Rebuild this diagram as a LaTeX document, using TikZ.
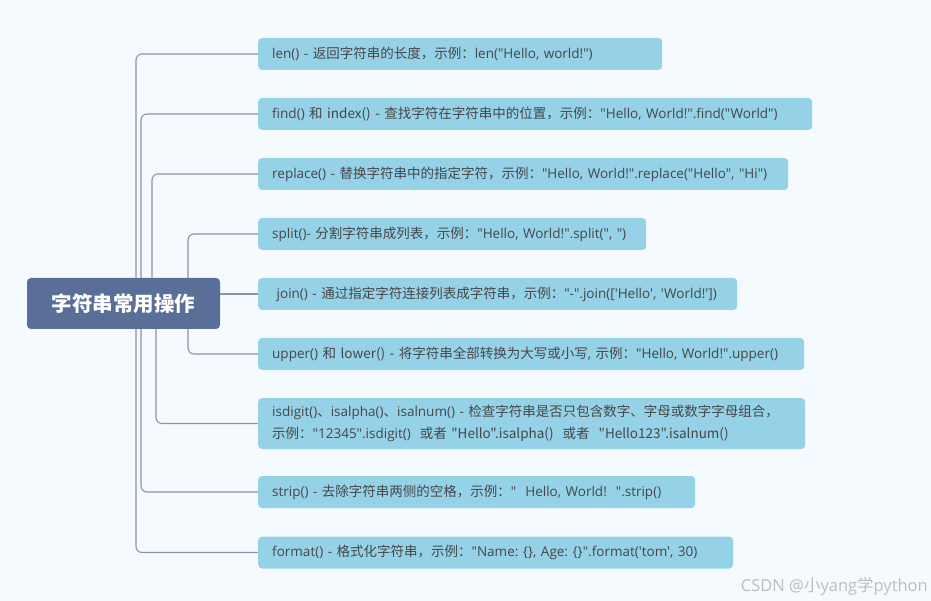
\documentclass[tikz,border=0pt]{standalone}
\usepackage{fontspec}
\newfontfamily\latf{Open Sans}
\newfontfamily\cjkf{Noto Sans CJK SC}
\newXeTeXintercharclass\MyCJKcls
\newcount\mycnt
\def\setcjkrange#1#2{\mycnt=#1\relax
  \loop\XeTeXcharclass\mycnt=\MyCJKcls\relax
  \ifnum\mycnt<#2\relax\advance\mycnt by 1\relax\repeat}
\setcjkrange{"3000}{"303F}
\setcjkrange{"4E00}{"9FFF}
\setcjkrange{"FF00}{"FFEF}
\XeTeXinterchartoks 0 \MyCJKcls {\cjkf}
\XeTeXinterchartoks 4095 \MyCJKcls {\cjkf}
\XeTeXinterchartoks \MyCJKcls 0 {\latf}
\XeTeXinterchartoks \MyCJKcls 4095 {}
\definecolor{bg}{HTML}{F5FAFE}
\definecolor{rootc}{HTML}{5A6F98}
\definecolor{boxc}{HTML}{95D1E7}
\definecolor{linec}{HTML}{8A93A8}
\definecolor{txt}{HTML}{474747}
\definecolor{wm}{HTML}{BDBDBD}
\begin{document}
\XeTeXinterchartokenstate=1
\frenchspacing
\begin{tikzpicture}[x=1pt,y=-1pt,
  leaf/.style={fill=boxc, rounded corners=4pt, anchor=west, text=txt, align=left,
    inner xsep=14pt, inner ysep=0pt, minimum height=32pt,
    font=\latf\fontsize{13.5}{22}\selectfont},
  conn/.style={draw=linec, line width=1.1pt, rounded corners=6pt}]
\fill[bg] (0,0) rectangle (931,601);
\useasboundingbox (0,0) rectangle (931,601);
\node[fill=rootc, rounded corners=4pt, minimum width=193pt, minimum height=51pt, inner sep=0pt,
  text=white, font=\cjkf\bfseries\fontsize{20.5}{24}\selectfont] (root) at (123.5,303.5) {字符串常用操作};
\node[leaf, text width=376pt] (n1) at (258,54) {len() - 返回字符串的长度，示例：len("Hello, world!")};
\node[leaf, text width=526pt] (n2) at (258,114) {find() 和 index() - 查找字符在字符串中的位置，示例："Hello, World!".find("World")};
\node[leaf, text width=502pt] (n3) at (258,174) {replace() - 替换字符串中的指定字符，示例："Hello, World!".replace("Hello", "Hi")};
\node[leaf, text width=360pt] (n4) at (258,234) {split()- 分割字符串成列表，示例："Hello, World!".split(", ")};
\node[leaf, text width=451pt] (n5) at (258,294) {\ join() - 通过指定字符连接列表成字符串，示例："-".join(['Hello', 'World!'])};
\node[leaf, text width=518pt] (n6) at (258,354) {upper() 和 lower() - 将字符串全部转换为大写或小写, 示例："Hello, World!".upper()};
\node[leaf, text width=519pt, minimum height=51pt] (n7) at (258,423.5) {isdigit()、isalpha()、isalnum() - 检查字符串是否只包含数字、字母或数字字母组合，\\示例："12345".isdigit()\ \ 或者 "Hello".isalpha()\ \ 或者\ \ "Hello123".isalnum()};
\node[leaf, text width=409pt] (n8) at (258,492) {strip() - 去除字符串两侧的空格，示例："\ \ Hello, World!\ \ ".strip()};
\node[leaf, text width=447pt] (n9) at (258,552.5) {format() - 格式化字符串，示例："Name: \{\}, Age: \{\}".format('tom', 30)};
\coordinate (xa) at (136,0);
\coordinate (xb) at (141,0);
\coordinate (xc) at (152,0);
\coordinate (xd) at (188,0);
\coordinate (xe) at (156,0);
\draw[conn] (xa |- root.north) |- (n1.west);
\draw[conn] (xb |- root.north) |- (n2.west);
\draw[conn] (xc |- root.north) |- (n3.west);
\draw[conn] (xd |- root.north) |- (n4.west);
\draw[conn] (root.east |- n5.west) -- (n5.west);
\draw[conn] (xd |- root.south) |- (n6.west);
\draw[conn] (xe |- root.south) |- (n7.west);
\draw[conn] (xb |- root.south) |- (n8.west);
\draw[conn] (xa |- root.south) |- (n9.west);
\node[anchor=base east, text=wm, inner sep=0pt, font=\latf\fontsize{16.5}{18}\selectfont] (wm) at (928,591) {CSDN @小yang学python};
\end{tikzpicture}
\end{document}
